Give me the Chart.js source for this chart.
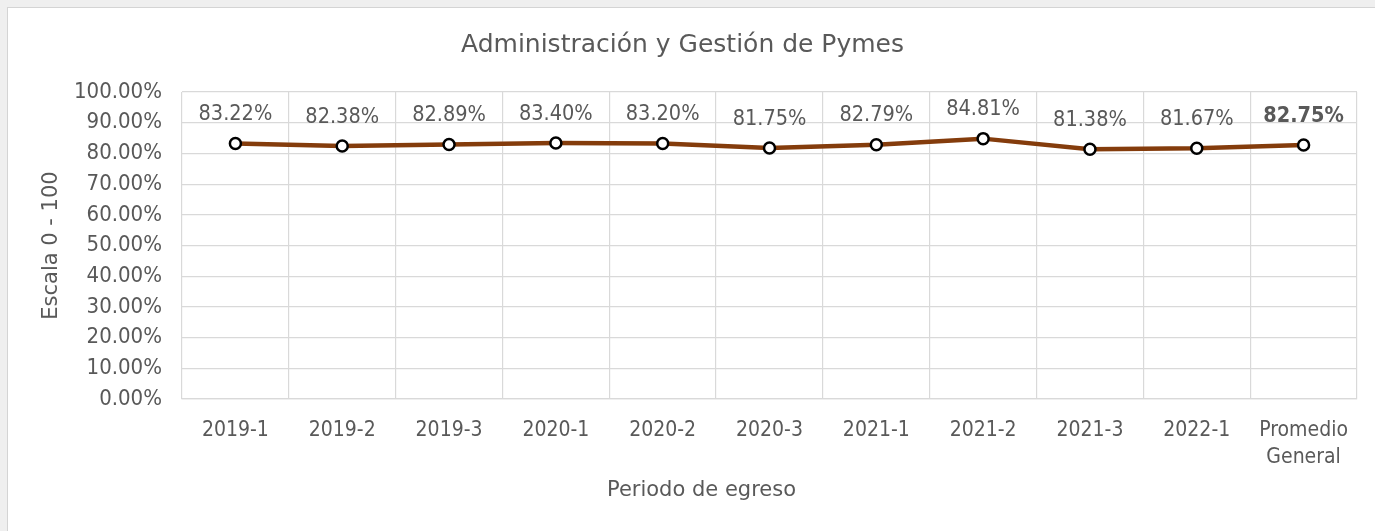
<!DOCTYPE html>
<html>
<head>
<meta charset="utf-8">
<script src="https://cdn.jsdelivr.net/npm/chart.js@4.4.0/dist/chart.umd.min.js"></script>
<style>
    html, body { margin: 0; padding: 0; background: #efefef; }
    .card {
        position: absolute;
        left: 7px;
        top: 7px;
        width: 1368px;
        height: 524px;
        background: #fff;
        border-left: 1px solid #d4d4d4;
        border-top: 1px solid #d4d4d4;
    }
    #myChart { display: block; }
</style>
</head>
<body>
<div class="card">
    <canvas id="myChart" width="1367" height="523"></canvas>
</div>
<script>
const labels = [
    '2019-1',
    '2019-2',
    '2019-3',
    '2020-1',
    '2020-2',
    '2020-3',
    '2021-1',
    '2021-2',
    '2021-3',
    '2022-1',
    ['Promedio', 'General'],
];

const promedios = [83.22, 82.38, 82.89, 83.40, 83.20, 81.75, 82.79, 84.81, 81.38, 81.67, 82.75];

const yTicks = [0, 10, 20, 30, 40, 50, 60, 70, 80, 90, 100];

const textColor = '#595959';
const fontName = '"DejaVu Sans Condensed", "DejaVu Sans", sans-serif';
const wideFont = '"DejaVu Sans", sans-serif';

// value labels over every point, the general average in bold
const valueLabels = {
    id: 'valueLabels',
    afterDatasetsDraw(chart) {
        const ctx = chart.ctx;
        const meta = chart.getDatasetMeta(0);
        ctx.save();
        ctx.fillStyle = textColor;
        ctx.textAlign = 'center';
        ctx.textBaseline = 'middle';
        meta.data.forEach((pt, i) => {
            const last = i === promedios.length - 1;
            ctx.font = (last ? 'bold ' : '') + '21.5px ' + fontName;
            ctx.fillText(promedios[i].toFixed(2) + '%', pt.x, pt.y - 29);
        });
        ctx.restore();
    }
};

// x axis title centred on the whole canvas
const xTitle = {
    id: 'xTitle',
    afterDraw(chart) {
        const ctx = chart.ctx;
        ctx.save();
        ctx.fillStyle = textColor;
        ctx.font = '21px ' + wideFont;
        ctx.textAlign = 'center';
        ctx.textBaseline = 'middle';
        ctx.fillText('Periodo de egreso', chart.width / 2 + 10, 483);
        ctx.restore();
    }
};

const data = {
    labels: labels,
    datasets: [{
        label: 'Administración y Gestión de Pymes',
        data: promedios,
        borderColor: '#843c0c',
        backgroundColor: '#843c0c',
        borderWidth: 4.5,
        pointRadius: 5.5,
        pointHoverRadius: 5.5,
        pointBackgroundColor: '#ffffff',
        pointBorderColor: '#000000',
        pointBorderWidth: 2.5,
        tension: 0,
    }]
};

const config = {
    type: 'line',
    data: data,
    options: {
        responsive: false,
        animation: false,
        layout: { padding: { left: 0, right: 18, top: 0, bottom: 0 } },
        plugins: {
            legend: { display: false },
            tooltip: { enabled: false },
            title: {
                display: true,
                text: 'Administración y Gestión de Pymes',
                color: textColor,
                font: { family: wideFont, size: 25, weight: 'normal', lineHeight: 1.2 },
                padding: { top: 22, bottom: 32 },
            },
        },
        scales: {
            x: {
                offset: true,
                grid: { offset: true, color: '#d9d9d9', lineWidth: 1.2, drawTicks: false },
                border: { color: '#d9d9d9', width: 1.2 },
                ticks: {
                    color: textColor,
                    padding: 18,
                    maxRotation: 0,
                    autoSkip: false,
                    font: { family: fontName, size: 21, lineHeight: 1.29 },
                },
                afterFit(scale) { scale.height = 132; },
            },
            y: {
                min: 0,
                max: 100,
                afterBuildTicks(scale) {
                    scale.ticks = yTicks.map(v => ({ value: v }));
                },
                grid: { color: '#d9d9d9', lineWidth: 1.2, drawTicks: false },
                border: { display: false },
                ticks: {
                    color: textColor,
                    padding: 20,
                    font: { family: fontName, size: 22 },
                    callback: v => v.toFixed(2) + '%',
                },
                title: {
                    display: true,
                    text: 'Escala 0 - 100',
                    color: textColor,
                    font: { family: wideFont, size: 21, lineHeight: 1.2 },
                    padding: { top: 31, bottom: 0 },
                },
                afterFit(scale) { scale.width = 174; },
            },
        },
    },
    plugins: [valueLabels, xTitle],
};

new Chart(
    document.getElementById('myChart'),
    config
);
</script>
</body>
</html>
